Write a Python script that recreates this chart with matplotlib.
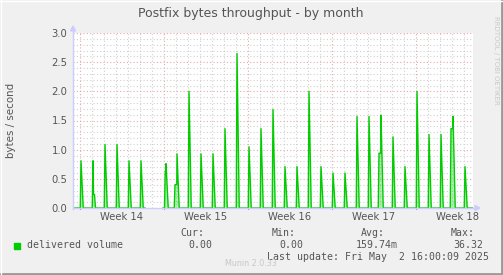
import matplotlib as mpl
mpl.use('Agg')
import matplotlib.pyplot as plt
import numpy as np

# hours since the start of the graph window (window is 800 h = 400 px)
spike_hours = [16, 40, 64, 88, 112, 136, 186, 208, 232, 256, 280, 304, 328,
               352, 376, 400, 424, 448, 472, 496, 520, 544, 568, 592, 616,
               640, 664, 688, 712, 736, 760, 784]
spike_values = [0.81, 0.81, 1.09, 1.09, 0.81, 0.81, 0.76, 0.93, 2.00, 0.93,
                0.93, 1.36, 2.65, 1.05, 1.36, 1.69, 0.71, 0.71, 2.00, 0.71,
                0.60, 0.60, 1.57, 1.57, 1.59, 1.22, 0.71, 2.00, 1.26, 1.26,
                1.57, 0.71]
# shoulders before a peak: peak hour -> (hours before, value)
pre_shoulders = {186: (1.5, 0.63), 208: (4, 0.40), 616: (4, 0.94), 760: (4, 1.36)}
# shoulders after a peak: peak hour -> value
post_shoulders = {40: 0.23}
gap_start, gap_end = 144, 180   # no data here
window_hours = 800
week_starts = [14, 182, 350, 518, 686]
week_labels = ["Week 14", "Week 15", "Week 16", "Week 17", "Week 18"]

legend_name = "delivered volume"
stats_heads = ["Cur:", "Min:", "Avg:", "Max:"]
stats_vals = ["0.00", "0.00", "159.74m", "36.32"]
last_update = "Last update: Fri May  2 16:00:09 2025"

# build the series from the peaks
t, y = [0.0], [0.0]
for h, v in zip(spike_hours, spike_values):
    if t[-1] < gap_start < h - 2:
        t += [gap_start, gap_start, gap_end, gap_end]
        y += [0.0, np.nan, np.nan, 0.0]
    if h in pre_shoulders:
        off, s = pre_shoulders[h]
        t += [h - off - 1.5, h - off, h - 0.5]
        y += [0.0, s, s]
    else:
        t += [h - 1.5]
        y += [0.0]
    t += [h]
    y += [v]
    if h in post_shoulders:
        s = post_shoulders[h]
        t += [h + 1, h + 3, h + 5]
        y += [s, s, 0.0]
    else:
        t += [h + 4.5]
        y += [0.0]
t += [window_hours]
y += [0.0]
t = np.array(t)
y = np.array(y)

W, H = 503, 275
fig = plt.figure(figsize=(W / 100, H / 100), dpi=100)
fig.patch.set_facecolor("#f0f0f0")

def fx(px):
    return px / W

def fy(py):
    return 1 - py / H

x0, x1, ytop, ybot = 73, 473, 33, 208
ax = fig.add_axes([fx(x0), fy(ybot), (x1 - x0) / W, (ybot - ytop) / H])
ax.set_facecolor("white")
ax.set_xlim(0, window_hours)
ax.set_ylim(0, 3.0)
for s in ax.spines.values():
    s.set_visible(False)

# grid
red, grey = "#e8a8a8", "#d0d0d0"
for d in np.arange(14 - 24, window_hours, 24):
    if d > 0 and d not in week_starts:
        ax.axvline(d, color=grey, lw=0.8, ls=(0, (1, 2)), zorder=1)
for w in week_starts:
    ax.axvline(w, color=red, lw=0.8, ls=(0, (1, 2)), zorder=1)
for i in range(1, 31):
    ax.axhline(i / 10, color=red if i % 5 == 0 else grey, lw=0.8, ls=(0, (1, 2)), zorder=1)

ax.fill_between(t, 0, y, color="#00cc00", alpha=0.3, lw=0, zorder=2)
ax.plot(t, y, color="#00cc00", lw=1.0, zorder=3)

# ticks
ax.tick_params(axis="both", which="both", length=0, colors="#555555", labelsize=7.2)
ax.set_yticks([0, 0.5, 1.0, 1.5, 2.0, 2.5, 3.0])
ax.set_yticklabels(["0.0", "0.5", "1.0", "1.5", "2.0", "2.5", "3.0"])
ax.set_xticks([w + 84 for w in week_starts])
ax.set_xticklabels(week_labels)
ax.tick_params(axis="x", pad=3)
ax.tick_params(axis="y", pad=4)
for w in week_starts:
    ax.plot([w, w], [0, -0.02], color="#e08080", lw=0.8, clip_on=False)

# axis lines with arrows
ac = "#ccccff"
fig.add_artist(plt.Line2D([fx(x0), fx(x0)], [fy(ybot + 1), fy(ytop - 3)], color=ac, lw=1))
fig.add_artist(plt.Line2D([fx(x0), fx(x1 + 3)], [fy(ybot), fy(ybot)], color=ac, lw=1))
fig.patches.append(mpl.patches.Polygon([[fx(x0 - 2.5), fy(ytop - 2)], [fx(x0 + 2.5), fy(ytop - 2)], [fx(x0), fy(ytop - 7)]],
                                       closed=True, color=ac, transform=fig.transFigure))
fig.patches.append(mpl.patches.Polygon([[fx(x1 + 2), fy(ybot - 2.5)], [fx(x1 + 2), fy(ybot + 2.5)], [fx(x1 + 7), fy(ybot)]],
                                       closed=True, color=ac, transform=fig.transFigure))

# titles
fig.text(fx(251), fy(14), "Postfix bytes throughput - by month", ha="center", va="center",
         fontsize=9, color="#555555")
fig.text(fx(11), fy((ytop + ybot) / 2), "bytes / second", rotation=90, ha="center", va="center",
         fontsize=7.4, color="#555555")
fig.text(fx(496), fy(16), "RRDTOOL / TOBI OETIKER", rotation=270, ha="center", va="top",
         fontsize=5, color="#c8c8c8")

# legend block
mono = "DejaVu Sans Mono"
fig.patches.append(mpl.patches.Rectangle((fx(14), fy(249)), 6 / W, 6 / H, color="#00cc00",
                                         transform=fig.transFigure))
fig.text(fx(27), fy(245), legend_name, ha="left", va="center", fontsize=7.1, family=mono, color="#555555")
head_x = [204, 296, 385, 475]
val_x = [212, 303, 398, 483]
for hx, hd in zip(head_x, stats_heads):
    fig.text(fx(hx), fy(233), hd, ha="right", va="center", fontsize=7.1, family=mono, color="#555555")
for vx, vl in zip(val_x, stats_vals):
    fig.text(fx(vx), fy(245), vl, ha="right", va="center", fontsize=7.1, family=mono, color="#555555")
fig.text(fx(489), fy(257), last_update, ha="right", va="center", fontsize=7.1, family=mono, color="#555555")
fig.text(fx(251), fy(264), "Munin 2.0.33", ha="center", va="center", fontsize=5.8, color="#c8c8c8")

# border
fig.add_artist(plt.Line2D([fx(501.5), fx(501.5)], [0, 1], color="#999999", lw=2))
fig.add_artist(plt.Line2D([0, 1], [fy(273.5), fy(273.5)], color="#999999", lw=2))
fig.add_artist(plt.Line2D([fx(0.5), fx(0.5)], [0, 1], color="#ffffff", lw=1))
fig.add_artist(plt.Line2D([0, 1], [fy(0.5), fy(0.5)], color="#ffffff", lw=1))

fig.savefig("out.png", dpi=100, facecolor=fig.get_facecolor())
plt.close()
